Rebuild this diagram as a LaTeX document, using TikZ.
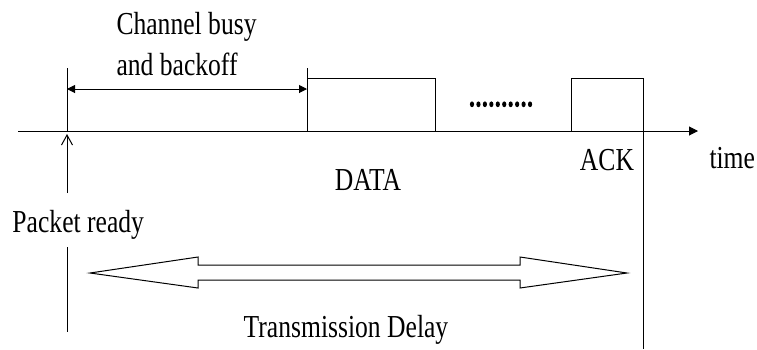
\documentclass[tikz,border=0pt]{standalone}
\usepackage{fontspec}
\setmainfont[FakeStretch=0.8]{Liberation Serif}
\usetikzlibrary{arrows.meta}
\begin{document}
\begin{tikzpicture}[x=1pt,y=-1pt,line width=1pt,
        every node/.style={inner sep=0pt,font=\fontsize{32}{38}\selectfont},
        lbl/.style={anchor=base}]
    \useasboundingbox (0,0) rectangle (757,349);
    % time axis
    \coordinate (s) at (18,131);
    \coordinate (e) at (698,131);
    \draw[-{Triangle[length=9pt,width=9pt]}] (s) -- (e);
    \node[lbl,anchor=base west] (time) at (709,168) {time};

    % packet ready mark
    \coordinate (r0) at (67,68);
    \coordinate (r1) at (67,131);
    \coordinate (r2) at (67,134);
    \coordinate (r3) at (67,193);
    \coordinate (r4) at (67,247);
    \coordinate (r5) at (67,332);
    \draw (r0) -- (r1);
    \draw[-{Straight Barb[length=10pt,width=11pt]}] (r3) -- (r2);
    \draw (r4) -- (r5);
    \node[lbl,anchor=base west] (ready) at (12,232) {Packet ready};

    % busy period
    \coordinate (b0) at (307,68);
    \coordinate (b1) at (307,131);
    \draw (b0) -- (b1);
    \coordinate (bl) at (67,89);
    \coordinate (br) at (307,89);
    \draw[{Triangle[length=8pt,width=8pt]}-{Triangle[length=8pt,width=8pt]}] (bl) -- (br);
    \node[lbl,anchor=base west] (busy) at (116,34) {Channel busy};
    \node[lbl,anchor=base west] (backoff) at (116,75) {and backoff};

    % frames
    \draw (307,131) -- (307,78) -- (435,78) -- (435,131);
    \node[lbl] (data) at (368,190) {DATA};
    \foreach \i in {0,...,9}
        \fill (472+6.45*\i,104.3) ellipse (2.1 and 2.9);
    \draw (571,131) -- (571,78) -- (643,78) -- (643,349);
    \node[lbl] (ack) at (607,170) {ACK};

    % transmission delay
    \coordinate (tl) at (90,273);
    \coordinate (tr) at (627,273);
    \draw (tl) -- (198,257) -- (198,265) -- (520,265) -- (520,257) -- (tr)
        -- (520,288) -- (520,280) -- (198,280) -- (198,288) -- cycle;
    \node[lbl] (delay) at (346,337) {Transmission Delay};
\end{tikzpicture}
\end{document}
